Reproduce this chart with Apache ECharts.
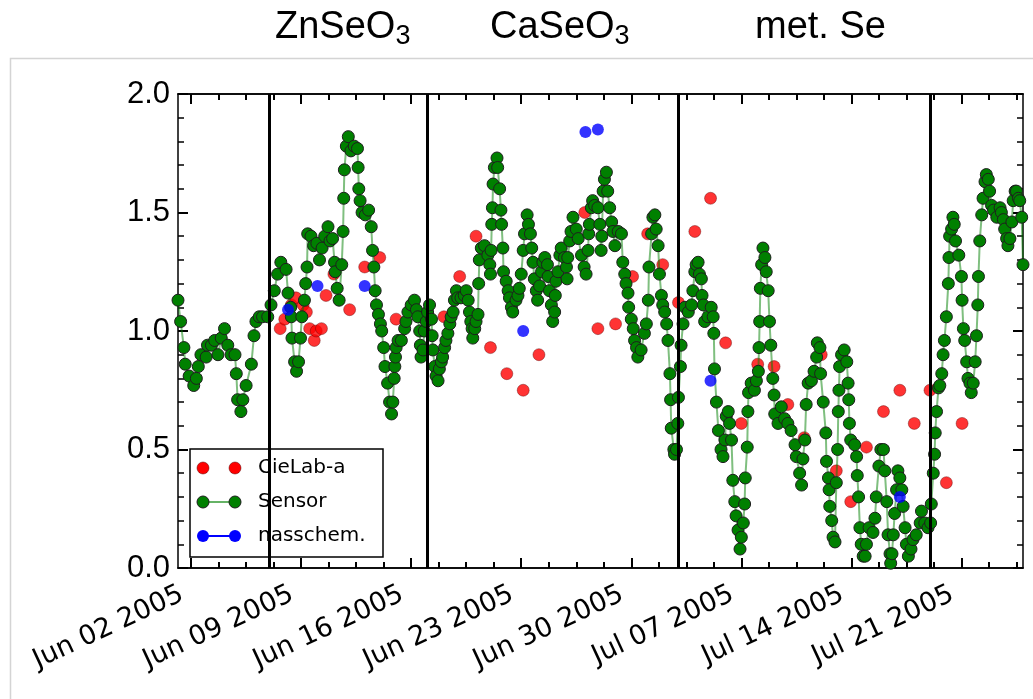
<!DOCTYPE html>
<html>
<head>
<meta charset="utf-8">
<script src="https://cdn.jsdelivr.net/npm/echarts@6/dist/echarts.min.js"></script>
<style>
  html, body { margin: 0; padding: 0; background: #fff; }
  #chart { width: 1033px; height: 699px; }
</style>
</head>
<body>
<div id="chart"></div>
<script>
// Measurement times are given in hours after 2005-06-01 00:00 (UTC).
const sensorHours = [
  4, 8, 13, 15, 21, 28, 32, 35, 39, 47, 49, 55, 60, 65, 70, 75, 80, 85, 91, 93,
  95, 100, 103, 108, 116, 120, 123, 128, 133, 141, 146, 151, 156, 161, 169, 172, 176, 177, 178, 182,
  185, 188, 191, 193, 197, 199, 201, 202, 207, 211, 216, 220, 224, 228, 233, 236, 240, 243, 244, 247,
  250, 254, 256, 257, 258, 261, 264, 268, 273, 278, 279, 280, 282, 285, 290, 295, 299, 301, 303, 305,
  307, 310, 313, 315, 318, 320, 324, 327, 330, 332, 334, 335, 336, 337, 340, 345, 350, 352, 355, 360,
  365, 368, 370, 373, 374, 375, 378, 380, 383, 385, 388, 391, 392, 393, 396, 398, 401, 403, 406, 408,
  411, 413, 416, 419, 421, 424, 426, 429, 431, 436, 441, 444, 447, 449, 451, 453, 454, 457, 459, 462,
  463, 464, 467, 472, 477, 480, 481, 482, 483, 484, 485, 487, 491, 492, 495, 497, 498, 500, 501, 505,
  508, 510, 513, 515, 520, 523, 525, 528, 531, 533, 537, 539, 542, 544, 546, 548, 551, 553, 556, 559,
  561, 564, 568, 569, 571, 574, 576, 579, 580, 581, 584, 587, 589, 594, 597, 598, 599, 602, 604, 607,
  612, 615, 620, 624, 627, 630, 631, 632, 635, 637, 640, 645, 648, 650, 651, 653, 655, 658, 660, 663,
  666, 668, 671, 676, 681, 683, 686, 688, 691, 692, 696, 699, 701, 704, 706, 711, 716, 719, 722, 723,
  727, 729, 732, 734, 737, 739, 742, 744, 747, 750, 752, 755, 756, 757, 761, 762, 765, 767, 768, 771,
  772, 775, 778, 783, 788, 790, 793, 795, 798, 800, 803, 804, 806, 808, 813, 818, 821, 822, 823, 826,
  829, 833, 836, 839, 841, 844, 846, 849, 851, 854, 856, 859, 862, 864, 867, 869, 870, 873, 874, 875,
  879, 884, 887, 890, 891, 892, 893, 895, 897, 900, 902, 905, 907, 909, 912, 914, 915, 920, 925, 930,
  935, 940, 946, 948, 953, 956, 958, 961, 963, 966, 971, 975, 979, 980, 984, 985, 989, 993, 994, 997,
  998, 999, 1002, 1004, 1007, 1009, 1011, 1012, 1013, 1014, 1017, 1021, 1025, 1027, 1028, 1029, 1031, 1037, 1040, 1041,
  1043, 1045, 1047, 1050, 1053, 1055, 1059, 1065, 1068, 1070, 1074, 1077, 1081, 1083, 1086, 1088, 1091, 1092, 1094, 1096,
  1098, 1101, 1103, 1106, 1109, 1111, 1114, 1116, 1119, 1123, 1126, 1131, 1137, 1139, 1144, 1149, 1153, 1154, 1157, 1159,
  1160, 1162, 1165, 1167, 1170, 1172, 1174, 1177, 1180, 1181, 1182, 1185, 1187, 1189, 1191, 1196, 1200, 1201, 1203, 1205,
  1208, 1210, 1213, 1215, 1218, 1221, 1223, 1225, 1226, 1228, 1231, 1233, 1236, 1238, 1241, 1243, 1246, 1249, 1254, 1259,
  1261, 1264, 1266, 1269, 1271, 1274, 1277, 1279, 1282, 1284, 1287, 1289, 1292, 1294
];
const sensorValues = [
  1.13, 1.04, 0.93, 0.86, 0.81, 0.77, 0.80, 0.85, 0.90, 0.89, 0.94, 0.94, 0.96, 0.90, 0.97, 1.01, 0.94, 0.90, 0.90, 0.82,
  0.71, 0.66, 0.71, 0.77, 0.86, 0.98, 1.04, 1.06, 1.06, 1.06, 1.11, 1.17, 1.24, 1.29, 1.26, 1.16, 1.10, 1.06, 0.97, 0.87,
  0.83, 0.87, 0.97, 1.06, 1.13, 1.20, 1.27, 1.41, 1.40, 1.36, 1.37, 1.30, 1.35, 1.40, 1.44, 1.38, 1.39, 1.29, 1.25, 1.18,
  1.13, 1.28, 1.42, 1.56, 1.68, 1.78, 1.82, 1.76, 1.78, 1.77, 1.69, 1.60, 1.55, 1.50, 1.49, 1.51, 1.44, 1.34, 1.27, 1.17,
  1.11, 1.07, 1.03, 1.00, 0.93, 0.85, 0.78, 0.70, 0.65, 0.70, 0.80, 0.85, 0.89, 0.93, 0.96, 0.96, 1.01, 1.04, 1.08, 1.11,
  1.13, 1.09, 1.06, 1.00, 0.94, 0.89, 0.92, 1.00, 1.04, 1.08, 1.11, 1.05, 0.98, 0.92, 0.85, 0.81, 0.79, 0.84, 0.87, 0.89,
  0.93, 0.96, 0.99, 1.03, 1.06, 1.08, 1.13, 1.17, 1.14, 1.14, 1.15, 1.17, 1.13, 1.08, 1.04, 1.01, 0.97, 1.01, 1.04, 1.07,
  1.20, 1.30, 1.35, 1.36, 1.32, 1.28, 1.24, 1.34, 1.45, 1.52, 1.62, 1.69, 1.73, 1.69, 1.60, 1.51, 1.45, 1.35, 1.25, 1.21,
  1.17, 1.14, 1.10, 1.08, 1.13, 1.15, 1.18, 1.24, 1.34, 1.41, 1.49, 1.45, 1.41, 1.35, 1.29, 1.22, 1.17, 1.13, 1.19, 1.25,
  1.29, 1.31, 1.28, 1.23, 1.17, 1.11, 1.04, 1.08, 1.15, 1.21, 1.25, 1.32, 1.35, 1.31, 1.27, 1.22, 1.31, 1.38, 1.42, 1.48,
  1.43, 1.39, 1.32, 1.27, 1.24, 1.34, 1.41, 1.45, 1.52, 1.55, 1.53, 1.52, 1.45, 1.34, 1.40, 1.59, 1.64, 1.67, 1.59, 1.52,
  1.46, 1.42, 1.36, 1.42, 1.41, 1.29, 1.24, 1.20, 1.16, 1.10, 1.05, 1.01, 0.96, 0.93, 0.89, 0.92, 0.99, 1.03, 1.13, 1.27,
  1.41, 1.48, 1.49, 1.43, 1.36, 1.24, 1.15, 1.11, 1.08, 1.03, 0.96, 0.82, 0.71, 0.59, 0.50, 0.48, 0.50, 0.61, 0.72, 0.85,
  0.94, 1.03, 1.10, 1.08, 1.11, 1.17, 1.25, 1.28, 1.29, 1.24, 1.22, 1.15, 1.11, 1.04, 1.06, 1.10, 1.06, 0.99, 0.84, 0.70,
  0.58, 0.50, 0.47, 0.54, 0.64, 0.66, 0.61, 0.54, 0.37, 0.28, 0.22, 0.16, 0.08, 0.13, 0.19, 0.27, 0.38, 0.51, 0.66, 0.74,
  0.78, 0.75, 0.79, 0.83, 0.93, 1.04, 1.18, 1.28, 1.35, 1.31, 1.25, 1.17, 1.04, 0.94, 0.80, 0.73, 0.65, 0.61, 0.68, 0.63,
  0.61, 0.58, 0.52, 0.47, 0.40, 0.35, 0.46, 0.54, 0.69, 0.78, 0.79, 0.83, 0.89, 0.95, 0.93, 0.82, 0.70, 0.57, 0.45, 0.38,
  0.33, 0.26, 0.20, 0.13, 0.11, 0.36, 0.50, 0.66, 0.75, 0.85, 0.90, 0.92, 0.87, 0.78, 0.71, 0.61, 0.54, 0.52, 0.47, 0.39,
  0.30, 0.17, 0.10, 0.05, 0.05, 0.10, 0.17, 0.15, 0.21, 0.30, 0.43, 0.50, 0.50, 0.41, 0.28, 0.14, 0.06, 0.02, 0.06, 0.14,
  0.23, 0.33, 0.41, 0.38, 0.33, 0.26, 0.17, 0.10, 0.05, 0.08, 0.12, 0.14, 0.19, 0.24, 0.19, 0.17, 0.19, 0.27, 0.40, 0.48,
  0.57, 0.66, 0.76, 0.77, 0.82, 0.90, 0.96, 1.06, 1.20, 1.31, 1.40, 1.43, 1.48, 1.45, 1.38, 1.32, 1.23, 1.13, 1.01, 0.96,
  0.87, 0.80, 0.78, 0.74, 0.78, 0.87, 0.98, 1.11, 1.23, 1.38, 1.49, 1.56, 1.63, 1.66, 1.64, 1.59, 1.53, 1.51, 1.48, 1.52,
  1.50, 1.47, 1.43, 1.39, 1.36, 1.39, 1.46, 1.55, 1.59, 1.59, 1.56, 1.55, 1.48, 1.28
];

const cielabHours = [
  160, 167, 177, 184, 195, 200, 205, 212, 215, 223, 230, 242, 266, 289, 312, 337,
  410, 434, 459, 481, 506, 531, 555, 625, 645, 672, 698, 721, 744, 768, 793, 817,
  840, 864, 889, 914, 935, 960, 986, 1009, 1031, 1055, 1081, 1106, 1128, 1152, 1177, 1201
];
const cielabValues = [
  1.01, 1.05, 1.11, 1.14, 1.11, 1.08, 1.01, 0.96, 1.00, 1.01, 1.15, 1.24, 1.09, 1.27, 1.31, 1.05,
  1.06, 1.23, 1.40, 0.93, 0.82, 0.75, 0.90, 1.50, 1.01, 1.03, 1.23, 1.41, 1.28, 1.12, 1.42, 1.56,
  0.95, 0.61, 0.86, 0.85, 0.69, 0.55, 0.90, 0.41, 0.28, 0.51, 0.66, 0.75, 0.61, 0.75, 0.36, 0.61
];

const nassHours = [172, 217, 289, 531, 626, 645, 817, 1106];
const nassValues = [1.09, 1.19, 1.19, 1.00, 1.84, 1.85, 0.79, 0.30];

const xTickDates = ['2005-06-02', '2005-06-09', '2005-06-16', '2005-06-23',
                    '2005-06-30', '2005-07-07', '2005-07-14', '2005-07-21'];
const xTickLabels = ['Jun 02 2005', 'Jun 09 2005', 'Jun 16 2005', 'Jun 23 2005',
                     'Jun 30 2005', 'Jul 07 2005', 'Jul 14 2005', 'Jul 21 2005'];

// Dates where the sample material was changed
const phaseBoundaries = ['2005-06-07', '2005-06-17', '2005-07-03', '2005-07-19'];
const phaseTitles = [['ZnSeO', '3'], ['CaSeO', '3'], ['met. Se', '']];

const T0 = Date.UTC(2005, 5, 1);
const HOUR = 3600 * 1000;
const toTime = h => T0 + h * HOUR;
const parseDay = s => { const p = s.split('-').map(Number); return Date.UTC(p[0], p[1] - 1, p[2]); };

const sensor = sensorHours.map((h, i) => [toTime(h), sensorValues[i]]);
const cielab = cielabHours.map((h, i) => [toTime(h), cielabValues[i]]);
const nass = nassHours.map((h, i) => [toTime(h), nassValues[i]]);

const xMin = sensor[0][0];
const xMax = sensor[sensor.length - 1][0];
const majorTicks = xTickDates.map(parseDay);
const quarterWeek = (majorTicks[1] - majorTicks[0]) / 4;
const minorTicks = [];
for (let t = majorTicks[0] - 4 * quarterWeek; t <= xMax; t += quarterWeek) {
  if (t >= xMin) minorTicks.push(t);
}

function tickLabel(v) {
  for (let i = 0; i < majorTicks.length; i++) {
    if (Math.abs(majorTicks[i] - v) < 1000) return xTickLabels[i];
  }
  return '';
}

function xAxisDef(position, ticks, len, withLabels) {
  return {
    type: 'value', position: position, min: xMin, max: xMax, scale: true,
    axisLine: { show: true, lineStyle: { color: '#000', width: 1.5 } },
    splitLine: { show: false },
    axisTick: { show: true, inside: true, length: len, customValues: ticks,
                lineStyle: { color: '#000', width: 2 } },
    axisLabel: withLabels ? {
      show: true, customValues: majorTicks, rotate: 25, margin: 21,
      padding: [0, 10, 0, 0],
      formatter: tickLabel, color: '#000', fontFamily: 'DejaVu Sans', fontSize: 27
    } : { show: false }
  };
}

function yAxisDef(position, withLabels) {
  return {
    type: 'value', position: position, min: 0, max: 2, interval: 0.5,
    axisLine: { show: true, lineStyle: { color: '#000', width: 1.5 } },
    splitLine: { show: false }, minorSplitLine: { show: false },
    axisTick: { show: true, inside: true, length: 10, lineStyle: { color: '#000', width: 2 } },
    minorTick: { show: true, splitNumber: 5, length: 6, lineStyle: { color: '#000', width: 1.5 } },
    axisLabel: withLabels ? {
      show: true, margin: 8, formatter: v => v.toFixed(1),
      color: '#000', fontFamily: 'Liberation Sans', fontSize: 31
    } : { show: false }
  };
}

const titleX = [275, 490, 755];
const titleGraphics = phaseTitles.map((t, i) => ({
  type: 'text', left: titleX[i], top: 9,
  style: {
    text: '{m|' + t[0] + '}' + (t[1] ? '{s|' + t[1] + '}' : ''),
    rich: {
      m: { fontSize: 38, fontFamily: 'Liberation Sans', fill: '#000', lineHeight: 44 },
      s: { fontSize: 27, fontFamily: 'Liberation Sans', fill: '#000', lineHeight: 12, verticalAlign: 'bottom' }
    }
  }
}));

// Legend box drawn by hand: two markers per entry like the plotting tool's default
const legendEntries = [
  { name: 'CieLab-a', color: '#ff0000', line: null, edge: 'rgba(90,0,0,0.5)' },
  { name: 'Sensor', color: '#008000', line: 'rgba(0,128,0,0.6)', edge: '#1e1e1e' },
  { name: 'nasschem.', color: '#0000ff', line: '#0000ff', edge: null }
];
const LX = 190, LY = 449, LW = 193, LH = 108;
const legendChildren = [{
  type: 'rect', shape: { x: LX, y: LY, width: LW, height: LH },
  style: { fill: '#fff', stroke: '#000', lineWidth: 1.5 }
}];
legendEntries.forEach((e, i) => {
  const cy = LY + 19 + i * 34;
  if (e.line) {
    legendChildren.push({ type: 'line', shape: { x1: 203, y1: cy, x2: 235, y2: cy },
      style: { stroke: e.line, lineWidth: 2 } });
  }
  [203, 235].forEach(cx => legendChildren.push({
    type: 'circle', shape: { cx: cx, cy: cy, r: 6 },
    style: { fill: e.color, stroke: e.edge || e.color, lineWidth: e.edge ? 1 : 0 }
  }));
  legendChildren.push({
    type: 'text', x: 258, y: cy,
    style: { text: e.name, fontFamily: 'DejaVu Sans', fontSize: 20, fill: '#000', verticalAlign: 'middle' }
  });
});

const chart = echarts.init(document.getElementById('chart'), null, { renderer: 'canvas' });
chart.setOption({
  animation: false,
  backgroundColor: '#fff',
  grid: { left: 178, right: 10, top: 94, bottom: 131, containLabel: false },
  xAxis: [
    xAxisDef('bottom', majorTicks, 10, true),
    xAxisDef('bottom', minorTicks, 6, false),
    xAxisDef('top', majorTicks, 10, false),
    xAxisDef('top', minorTicks, 6, false)
  ],
  yAxis: [yAxisDef('left', true), yAxisDef('right', false)],
  graphic: [
    { type: 'rect', silent: true, z: -10,
      shape: { x: 10.5, y: 58.5, width: 1200, height: 800 },
      style: { fill: 'none', stroke: '#d4d4d4', lineWidth: 1.5 } },
    ...titleGraphics,
    { type: 'group', z: 100, children: legendChildren }
  ],
  series: [
    {
      name: 'phase', type: 'line', data: [], z: 1, silent: true,
      markLine: {
        silent: true, symbol: 'none', animation: false,
        label: { show: false },
        lineStyle: { color: '#000', width: 3, type: 'solid' },
        emphasis: { disabled: true },
        data: phaseBoundaries.map(d => ({ xAxis: parseDay(d) }))
      }
    },
    {
      name: 'CieLab-a', type: 'scatter', data: cielab, symbolSize: 12, z: 3,
      itemStyle: { color: '#ff0000', borderColor: 'rgba(90,0,0,0.5)', borderWidth: 1 }
    },
    {
      name: 'Sensor', type: 'line', data: sensor, z: 4,
      symbol: 'circle', symbolSize: 12, showAllSymbol: true,
      lineStyle: { color: 'rgba(0,128,0,0.5)', width: 2 },
      itemStyle: { color: '#008000', borderColor: '#1e1e1e', borderWidth: 1 }
    },
    {
      name: 'nasschem.', type: 'scatter', data: nass, symbolSize: 12, z: 5,
      itemStyle: { color: '#0000ff' }
    }
  ]
});
</script>
</body>
</html>
